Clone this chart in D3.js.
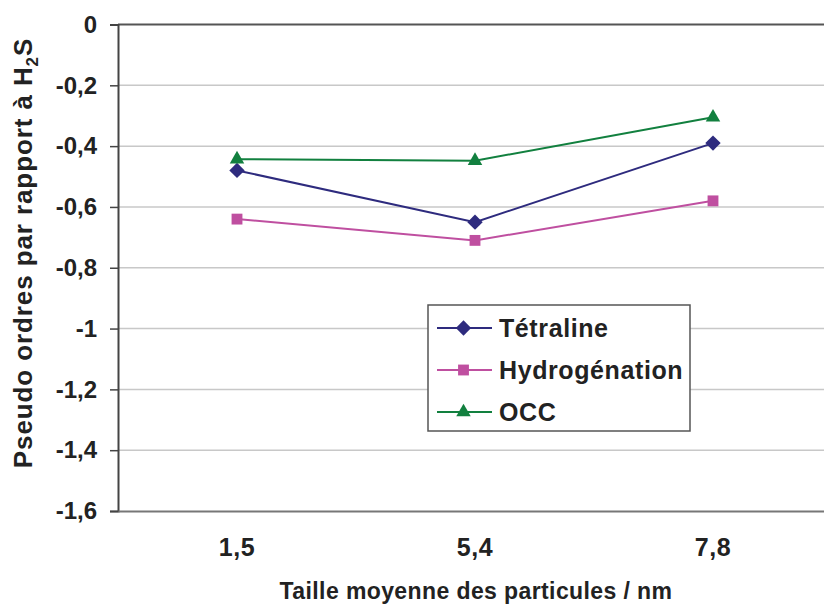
<!DOCTYPE html>
<html>
<head>
<meta charset="utf-8">
<script src="https://cdn.jsdelivr.net/npm/d3@7"></script>
<style>
  html, body { margin: 0; padding: 0; background: #fff; }
  svg { display: block; font-family: "Liberation Sans", Arial, sans-serif; }
</style>
</head>
<body>
<svg id="chart" width="824" height="604"></svg>
<script>
// Particle sizes (nm) on the category axis
const categories = ["1,5", "5,4", "7,8"];
// Pseudo reaction orders relative to H2S
const tetraline = [-0.48, -0.65, -0.39];
const hydrogenation = [-0.64, -0.71, -0.58];
const occ = [-0.443, -0.448, -0.305];
const yTicks = [0, -0.2, -0.4, -0.6, -0.8, -1, -1.2, -1.4, -1.6];

const series = [
  { name: "Tétraline", values: tetraline, color: "#2e2b7e", symbol: d3.symbolDiamond2, size: 150 },
  { name: "Hydrogénation", values: hydrogenation, color: "#bf4fa0", symbol: d3.symbolSquare2, size: 150 },
  { name: "OCC", values: occ, color: "#12803f", symbol: d3.symbolTriangle2, size: 150 }
];

const svg = d3.select("#chart");
const plotLeft = 118, plotRight = 832, plotTop = 24.5, plotBottom = 511;

const x = d3.scaleBand().domain(categories).range([plotLeft, plotRight]);
const y = d3.scaleLinear().domain([-1.6, 0]).range([plotBottom, plotTop]);
const fmt = v => String(+v.toFixed(1)).replace(".", ",");

// Horizontal gridlines
svg.append("g")
  .selectAll("line")
  .data(yTicks.filter(v => v !== 0 && v !== -1.6))
  .join("line")
  .attr("x1", plotLeft).attr("x2", plotRight)
  .attr("y1", d => y(d)).attr("y2", d => y(d))
  .attr("stroke", "#c8c8c8").attr("stroke-width", 1.5);

// Top border line
svg.append("line")
  .attr("x1", plotLeft).attr("x2", plotRight)
  .attr("y1", y(0)).attr("y2", y(0))
  .attr("stroke", "#555").attr("stroke-width", 2);

// Y axis
const yAxis = svg.append("g")
  .attr("transform", `translate(${plotLeft},0)`)
  .call(d3.axisLeft(y).tickValues(yTicks).tickFormat(fmt).tickSize(8).tickPadding(13));
yAxis.select(".domain").attr("stroke", "#444").attr("stroke-width", 2);
yAxis.selectAll(".tick line").attr("stroke", "#444").attr("stroke-width", 1.5);
yAxis.selectAll(".tick text")
  .attr("font-size", 24).attr("font-weight", "bold").attr("fill", "#222")
  .attr("font-family", "Liberation Sans, Arial, sans-serif");

// X axis
const xAxis = svg.append("g")
  .attr("transform", `translate(0,${plotBottom})`)
  .call(d3.axisBottom(x).tickSize(0).tickPadding(27));
xAxis.select(".domain").attr("stroke", "#777").attr("stroke-width", 2);
xAxis.selectAll(".tick text")
  .attr("font-size", 25).attr("font-weight", "bold").attr("fill", "#222")
  .attr("letter-spacing", 0.6)
  .attr("font-family", "Liberation Sans, Arial, sans-serif");

// Axis titles
svg.append("text")
  .attr("x", 476).attr("y", 599)
  .attr("text-anchor", "middle")
  .attr("font-size", 23).attr("font-weight", "bold").attr("fill", "#222")
  .attr("letter-spacing", 0.4)
  .text("Taille moyenne des particules / nm");

const yTitle = svg.append("text")
  .attr("transform", "translate(32,253) rotate(-90)")
  .attr("text-anchor", "middle")
  .attr("font-size", 26).attr("font-weight", "bold").attr("fill", "#222")
  .attr("letter-spacing", 0.9);
yTitle.append("tspan").text("Pseudo ordres par rapport à H");
yTitle.append("tspan").attr("font-size", 17).attr("dy", 6).text("2");
yTitle.append("tspan").attr("dy", -6).text("S");

// Series lines and markers
const cx = i => x(categories[i]) + x.bandwidth() / 2;
const line = d3.line().x((d, i) => cx(i)).y(d => y(d));

series.forEach(s => {
  svg.append("path")
    .datum(s.values)
    .attr("d", line)
    .attr("fill", "none")
    .attr("stroke", s.color)
    .attr("stroke-width", 2);
  svg.append("g")
    .selectAll("path")
    .data(s.values)
    .join("path")
    .attr("transform", (d, i) => `translate(${cx(i)},${y(d)})`)
    .attr("d", d3.symbol().type(s.symbol).size(s.size))
    .attr("fill", s.color);
});

// Legend
const lg = svg.append("g").attr("transform", "translate(428,305)");
lg.append("rect")
  .attr("width", 262).attr("height", 126)
  .attr("fill", "#fff").attr("stroke", "#555").attr("stroke-width", 1.5);
series.forEach((s, i) => {
  const yy = 23 + i * 42;
  lg.append("line")
    .attr("x1", 9).attr("x2", 64).attr("y1", yy).attr("y2", yy)
    .attr("stroke", s.color).attr("stroke-width", 2);
  lg.append("path")
    .attr("transform", `translate(35.5,${yy})`)
    .attr("d", d3.symbol().type(s.symbol).size(s.size))
    .attr("fill", s.color);
  lg.append("text")
    .attr("x", 71).attr("y", yy + 9)
    .attr("font-size", 25).attr("font-weight", "bold").attr("fill", "#222")
    .attr("letter-spacing", 0.6)
    .text(s.name);
});
</script>
</body>
</html>
